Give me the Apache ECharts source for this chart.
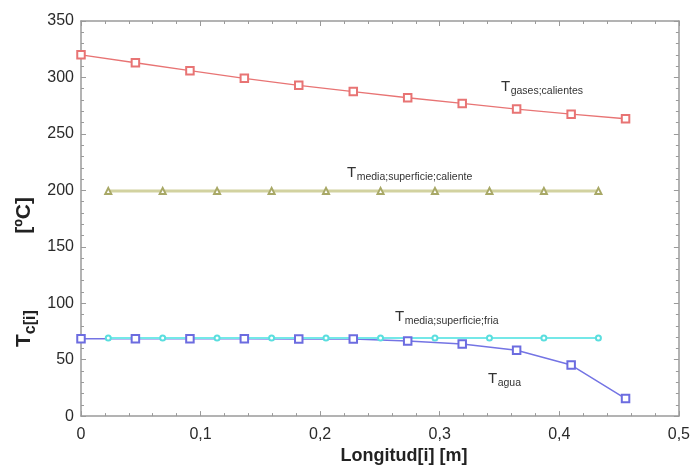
<!DOCTYPE html>
<html>
<head>
<meta charset="utf-8">
<script src="https://cdn.jsdelivr.net/npm/echarts@6/dist/echarts.min.js"></script>
<style>html,body{margin:0;padding:0;background:#fff;}#c{width:693px;height:470px;}</style>
</head>
<body>
<div id="c"></div>
<script>
// ---- data ----
const xMain = [0, 0.0455, 0.0911, 0.1366, 0.1821, 0.2277, 0.2732, 0.3188, 0.3643, 0.4099, 0.4554];
const xMid = [0.0228, 0.0683, 0.1138, 0.1594, 0.2049, 0.2505, 0.2960, 0.3416, 0.3871, 0.4327];
const tGases = [320, 313, 306, 299.2, 293, 287.5, 282, 277, 272, 267.5, 263.4];
const tAgua = [68.6, 68.6, 68.6, 68.5, 68.4, 68.2, 66.5, 63.9, 58.4, 45.2, 15.5];
const tSupCaliente = [199.5, 199.5, 199.5, 199.5, 199.5, 199.5, 199.5, 199.5, 199.5, 199.5];
const tSupFria = [69.2, 69.2, 69.2, 69.2, 69.2, 69.2, 69.2, 69.2, 69.2, 69.2];
const xTicks = [0, 0.1, 0.2, 0.3, 0.4, 0.5];
const yTicks = [0, 50, 100, 150, 200, 250, 300, 350];

const FONT = '"Liberation Sans", Arial, sans-serif';
const mc = document.createElement('canvas').getContext('2d');
function tw(text, size, bold) { mc.font = (bold ? 'bold ' : '') + size + 'px ' + FONT; return mc.measureText(text).width; }

function pairs(xs, ys) { return xs.map((x, i) => [x, ys[i]]); }

function subLabel(T, sub, x, yb) {
  const sT = 15, sS = 10.5;
  const w = tw(T, sT, false);
  return {
    type: 'group', x: x, y: yb,
    children: [
      { type: 'text', x: 0, y: 0, style: { text: T, font: sT + 'px ' + FONT, fill: '#333', verticalAlign: 'bottom' } },
      { type: 'text', x: w + 0.5, y: 3, style: { text: sub, font: sS + 'px ' + FONT, fill: '#333', verticalAlign: 'bottom' } }
    ]
  };
}

function yName() {
  const big = 21, small = 16;
  const w1 = tw('T', big, true);
  const wU = tw('[ºC]', big, true);
  const start = 347, end = 197;   // screen y extents of the label
  return {
    type: 'group', x: 35, y: start, rotation: Math.PI / 2,
    children: [
      { type: 'text', x: 0, y: 0, style: { text: 'T', font: 'bold ' + big + 'px ' + FONT, fill: '#222', verticalAlign: 'bottom' } },
      { type: 'text', x: w1, y: 4, style: { text: 'c[i]', font: 'bold ' + small + 'px ' + FONT, fill: '#222', verticalAlign: 'bottom' } },
      { type: 'text', x: (start - end) - wU, y: 0, style: { text: '[ºC]', font: 'bold ' + big + 'px ' + FONT, fill: '#222', verticalAlign: 'bottom' } }
    ]
  };
}

const axisCol = '#9a9a9a';
function xAx(pos, labels) {
  return {
    type: 'value', position: pos, min: xTicks[0], max: xTicks[xTicks.length - 1], interval: xTicks[1] - xTicks[0],
    axisLine: { show: true, onZero: false, lineStyle: { color: axisCol, width: 1.5 } },
    axisTick: { show: true, inside: true, length: 5, lineStyle: { color: axisCol } },
    minorTick: { show: true, splitNumber: 5, length: 3, lineStyle: { color: axisCol } },
    splitLine: { show: false },
    axisLabel: { show: labels, margin: 10, fontSize: 16, color: '#2a2a2a', fontFamily: FONT,
      formatter: v => String(Math.round(v * 10) / 10).replace('.', ',') },
    name: labels ? 'Longitud[i] [m]' : '', nameLocation: 'middle', nameGap: 29,
    nameTextStyle: { fontWeight: 'bold', fontSize: 18, color: '#222', fontFamily: FONT, padding: [0, 0, 0, 48] }
  };
}
function yAx(pos, labels) {
  return {
    type: 'value', position: pos, min: yTicks[0], max: yTicks[yTicks.length - 1], interval: yTicks[1] - yTicks[0],
    axisLine: { show: true, onZero: false, lineStyle: { color: axisCol, width: 1.5 } },
    axisTick: { show: true, inside: true, length: 5, lineStyle: { color: axisCol } },
    minorTick: { show: true, splitNumber: 5, length: 3, lineStyle: { color: axisCol } },
    splitLine: { show: false },
    axisLabel: { show: labels, margin: 7, fontSize: 16, color: '#2a2a2a', fontFamily: FONT }
  };
}

const chart = echarts.init(document.getElementById('c'), null, { renderer: 'canvas' });
chart.setOption({
  animation: false,
  backgroundColor: '#fff',
  grid: { left: 81, right: 14, top: 21, bottom: 49, containLabel: false },
  xAxis: [xAx('bottom', true), xAx('top', false)],
  yAxis: [yAx('left', true), yAx('right', false)],
  series: [
    { type: 'line', name: 'gases', data: pairs(xMain, tGases), symbol: 'emptyRect', symbolSize: 7.5,
      lineStyle: { color: '#e87474', width: 1.3 }, itemStyle: { color: '#e87474', borderWidth: 1.3 }, z: 3 },
    { type: 'line', name: 'caliente', data: pairs(xMid, tSupCaliente), symbol: 'emptyTriangle', symbolSize: 6,
      lineStyle: { color: '#d2d2a0', width: 3 }, itemStyle: { color: '#a8a866', borderWidth: 1.2 }, z: 3 },
    { type: 'line', name: 'agua', data: pairs(xMain, tAgua), symbol: 'emptyRect', symbolSize: 7.5,
      lineStyle: { color: '#7474e4', width: 1.5 }, itemStyle: { color: '#6c6ce0', borderWidth: 1.4 }, z: 3 },
    { type: 'line', name: 'fria', data: pairs(xMid, tSupFria), symbol: 'emptyCircle', symbolSize: 5,
      lineStyle: { color: '#74e8e8', width: 1.8 }, itemStyle: { color: '#5adede', borderWidth: 1.2 }, z: 3 }
  ],
  graphic: [
    subLabel('T', 'gases;calientes', 501, 94),
    subLabel('T', 'media;superficie;caliente', 347, 180),
    subLabel('T', 'media;superficie;fria', 395, 324),
    subLabel('T', 'agua', 488, 386),
    yName()
  ]
});
</script>
</body>
</html>
